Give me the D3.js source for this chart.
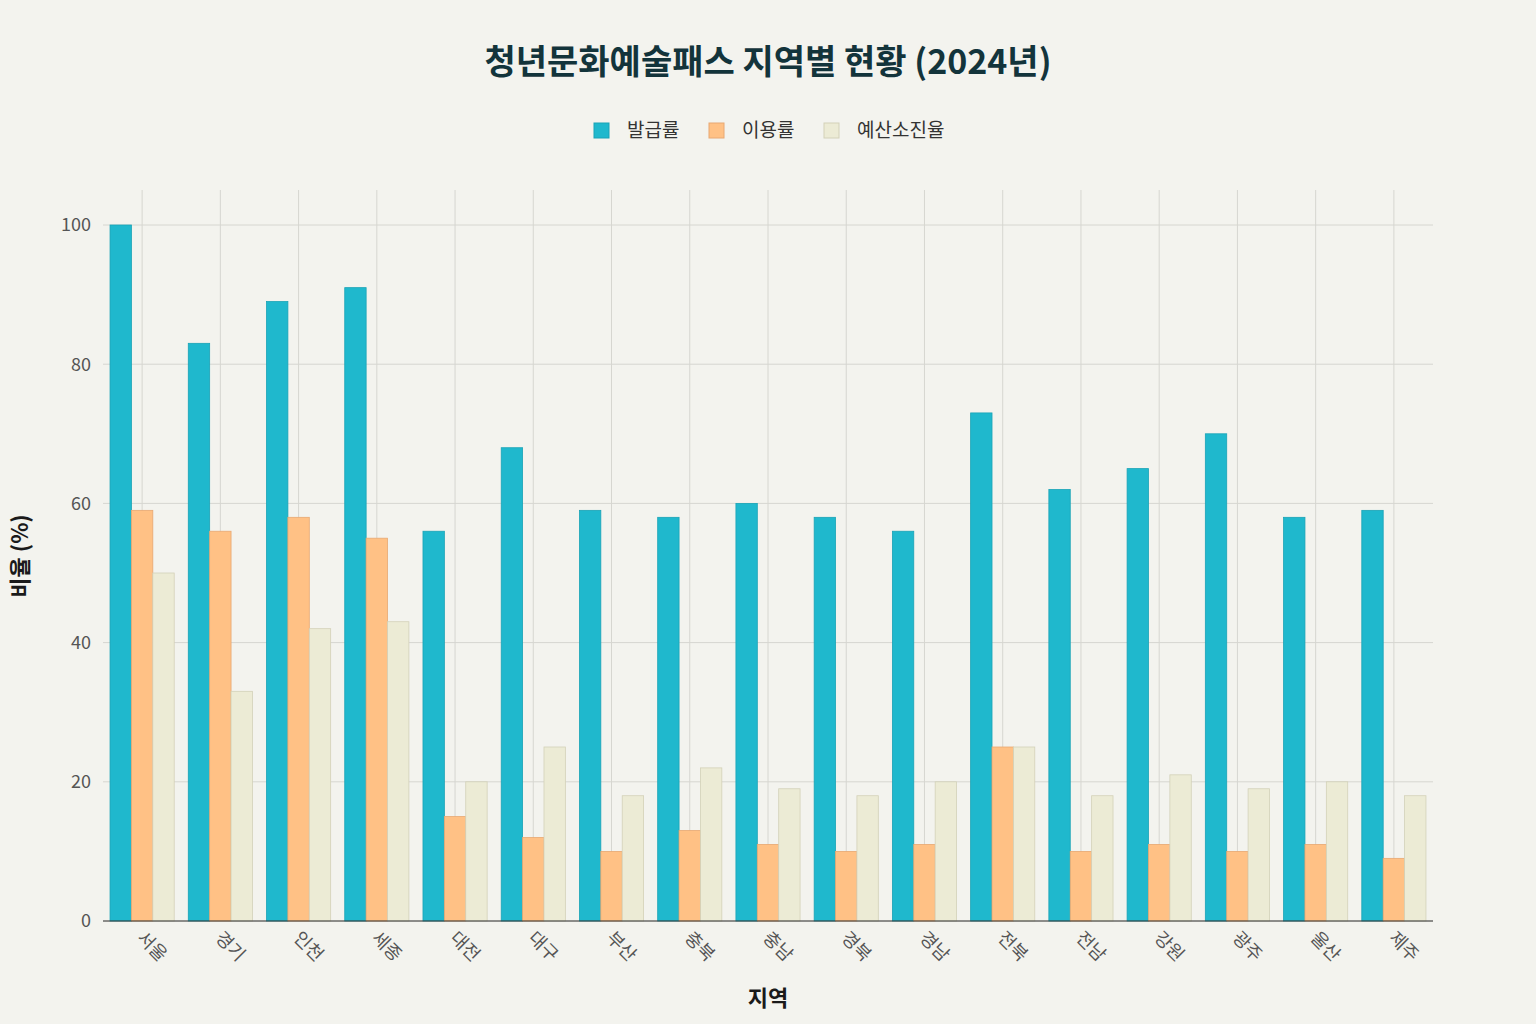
<!DOCTYPE html>
<html><head><meta charset="utf-8">
<script src="https://cdn.jsdelivr.net/npm/d3@7"></script>
<style>body{margin:0;background:#f3f3ee;font-family:"Noto Sans CJK KR","Noto Sans",sans-serif;}</style>
</head><body><svg id="c" width="1536" height="1024"></svg>
<script>
const regions=["서울","경기","인천","세종","대전","대구","부산","충북","충남","경북","경남","전북","전남","강원","광주","울산","제주"];
const seriesNames=["발급률","이용률","예산소진율"];
const issueRate=[100,83,89,91,56,68,59,58,60,58,56,73,62,65,70,58,59];
const useRate=[59,56,58,55,15,12,10,13,11,10,11,25,10,11,10,11,9];
const budgetRate=[50,33,42,43,20,25,18,22,19,18,20,25,18,21,19,20,18];
const yTicks=[0,20,40,60,80,100];
const colors=["#1fb8cd","#ffc185","#ecebd5"];
const strokes=["#1aa3b6","#e8a872","#d3d1b8"];
const seriesVals=[issueRate,useRate,budgetRate];

const svg=d3.select("#c");
svg.append("rect").attr("width",1536).attr("height",1024).attr("fill","#f3f3ee");
const L=103,R=1433,T=190,B=921;
const x=d3.scaleBand().domain(regions).range([L,R]).paddingInner(0.18).paddingOuter(0.09);
const xs=d3.scaleBand().domain(d3.range(3)).range([0,x.bandwidth()]);
const y=d3.scaleLinear().domain([0,100]).range([B,225]);

// grid
svg.append("g").selectAll("line").data(yTicks).join("line")
 .attr("x1",L).attr("x2",R).attr("y1",d=>y(d)).attr("y2",d=>y(d)).attr("stroke","#d6d6d0").attr("stroke-width",1);
svg.append("g").selectAll("line").data(regions).join("line")
 .attr("x1",d=>x(d)+x.bandwidth()/2).attr("x2",d=>x(d)+x.bandwidth()/2).attr("y1",T).attr("y2",B).attr("stroke","#d6d6d0");

// bars
seriesVals.forEach((vals,s)=>{
 svg.append("g").selectAll("rect").data(vals).join("rect")
  .attr("x",(d,i)=>x(regions[i])+xs(s)).attr("width",xs.bandwidth())
  .attr("y",d=>y(d)).attr("height",d=>B-y(d))
  .attr("fill",colors[s]).attr("stroke",strokes[s]).attr("stroke-width",0.8);
});

// axes
svg.append("line").attr("x1",L).attr("x2",R).attr("y1",B).attr("y2",B).attr("stroke","#333").attr("stroke-width",1);
svg.append("g").selectAll("text").data(yTicks).join("text")
 .attr("x",91).attr("y",d=>y(d)).attr("dy","0.35em").attr("text-anchor","end")
 .attr("font-size",18).attr("fill","#555").text(d=>d);
svg.append("g").selectAll("text").data(regions).join("text")
 .attr("transform",d=>`translate(${x(d)+x.bandwidth()/2-6},${B+18}) rotate(45)`)
 .attr("font-size",18).attr("fill","#555").text(d=>d);

svg.append("text").attr("x",768).attr("y",1006).attr("text-anchor","middle").attr("font-size",22).attr("font-weight","bold").attr("fill","#1a1a1a").text("지역");
svg.append("text").attr("transform","translate(28,556) rotate(-90)").attr("text-anchor","middle").attr("font-size",22).attr("font-weight","bold").attr("fill","#1a1a1a").text("비율 (%)");
svg.append("text").attr("x",768).attr("y",74).attr("text-anchor","middle").attr("font-size",34).attr("font-weight","bold").attr("fill","#13343b").text("청년문화예술패스 지역별 현황 (2024년)");

// legend
const lx=[594,709,824];
seriesNames.forEach((n,i)=>{
 svg.append("rect").attr("x",lx[i]).attr("y",123).attr("width",15).attr("height",15).attr("fill",colors[i]).attr("stroke",strokes[i]);
 svg.append("text").attr("x",lx[i]+33).attr("y",137).attr("font-size",19).attr("fill","#333").text(n);
});
</script></body></html>
